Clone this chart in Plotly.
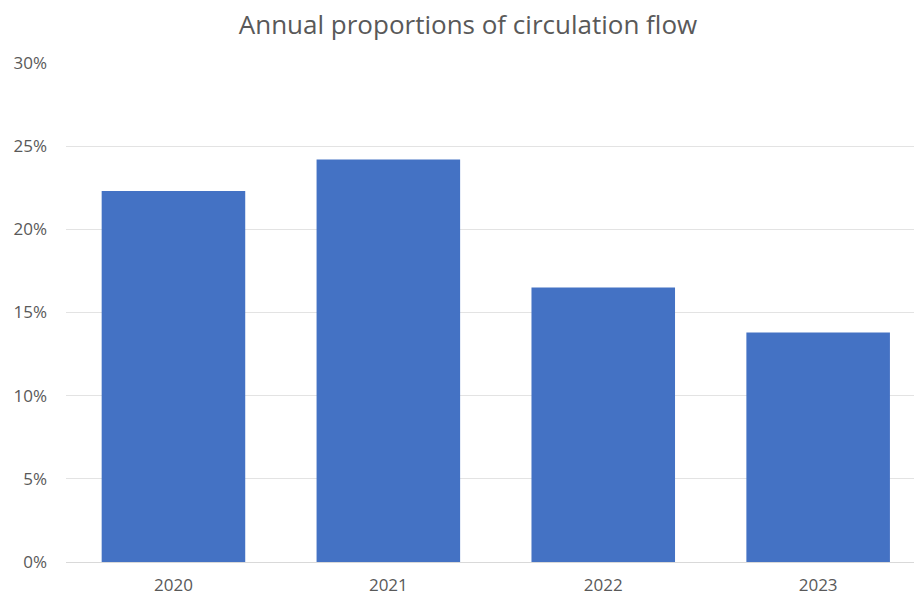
import plotly.graph_objects as go

# Share of circulation flow per year
years = ["2020", "2021", "2022", "2023"]
shares = [0.223, 0.242, 0.165, 0.138]

tick_vals = [0, 0.05, 0.10, 0.15, 0.20, 0.25, 0.30]
tick_text = ["0%", "5%", "10%", "15%", "20%", "25%", "30%"]

font_family = "Open Sans, Noto Sans, sans-serif"
text_grey = "#595959"

fig = go.Figure(
    go.Bar(
        x=years,
        y=shares,
        marker=dict(color="#4472C4", line=dict(width=0)),
        width=0.668,
        hoverinfo="x+y",
    )
)

fig.update_layout(
    width=914,
    height=595,
    margin=dict(l=66, r=0, t=63, b=33),
    paper_bgcolor="white",
    plot_bgcolor="white",
    showlegend=False,
    title=dict(
        text="Annual proportions of circulation flow",
        x=468 / 914,
        xanchor="center",
        y=1 - 25 / 595,
        yanchor="middle",
        font=dict(family=font_family, size=26, color=text_grey),
    ),
    font=dict(family=font_family, size=17, color=text_grey),
)

fig.update_xaxes(
    type="category",
    range=[-0.5, 3.446],
    automargin=False,
    showgrid=False,
    showline=False,
    ticks="",
    ticklabelstandoff=11,
    tickfont=dict(size=17, color=text_grey),
)

fig.update_yaxes(
    range=[0, 0.30],
    automargin=False,
    tickvals=tick_vals,
    ticktext=tick_text,
    showgrid=True,
    gridcolor="#e3e3e3",
    gridwidth=1,
    zeroline=True,
    zerolinecolor="#d9d9d9",
    zerolinewidth=1,
    showline=False,
    ticks="",
    ticklabelstandoff=18,
    tickfont=dict(size=17, color=text_grey),
)

fig.write_html("out.html")
